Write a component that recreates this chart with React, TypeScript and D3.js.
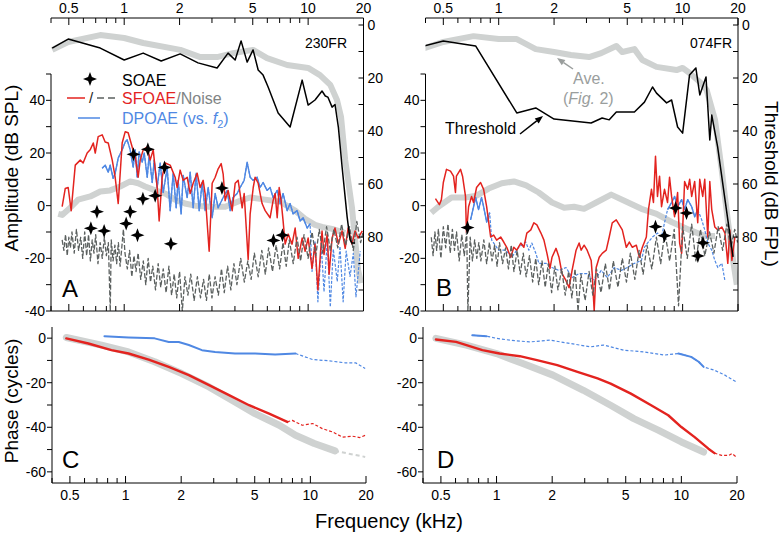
import React from "react";
import * as d3 from "d3";

type P = [number, number];

const FONT = "'Liberation Sans', Arial, Helvetica, sans-serif";
const RED = "#e3231f";
const BLUE = "#4f88e3";
const NOISE = "#5b605f";
const AVE = "#cfd2d1";

// ---------------- axes ----------------
const freqTicks = [0.4, 0.5, 0.6, 0.7, 0.8, 0.9, 1, 2, 3, 4, 5, 6, 7, 8, 9, 10, 20];
const freqLabels = [0.5, 1, 2, 5, 10, 20];
const ampTicks = [-40, -30, -20, -10, 0, 10, 20, 30, 40, 50];
const ampLabels = [-40, -20, 0, 20, 40];
const thrTicks = [0, 10, 20, 30, 40, 50, 60, 70, 80, 90, 100];
const thrLabels = [0, 20, 40, 60, 80];
const phaseTicks = [0, -10, -20, -30, -40, -50, -60];
const phaseLabels = [0, -20, -40, -60];

// ---------------- panel A (230FR) ----------------
const thresholdA: P[] = [[0.406,8.7],[0.496,5.3],[0.741,8.7],[1.0,13.2],[1.268,10.6],[1.589,13.6],[2.015,10.9],[2.52,14.3],[3.2,16.2],[3.67,10.6],[4.01,13.2],[4.32,6.0],[4.66,14.0],[5.02,9.4],[5.35,17],[5.69,18.9],[6.06,23.4],[6.87,33.2],[7.98,38.5],[9.28,20.8],[10,30.2],[10.9,28.3],[11.9,24.9],[12.4,26.8],[12.8,27.2],[13.5,31],[14.0,30],[14.6,38.5],[15.3,53.6],[16.3,72.5],[16.9,81],[17.3,82.3],[18.0,82.3]];
const aveThrA: P[] = [[0.406,9.4],[0.496,6.4],[0.741,3.8],[1.0,4.9],[1.27,6.8],[2.02,9.4],[2.59,12.1],[3.2,12.1],[3.91,10.6],[5.02,9.4],[5.98,12.5],[7.69,15.1],[10,16.2],[11.6,18.9],[13.2,22.6],[14.35,28.3],[15.1,34.7],[15.9,50.9],[17.3,68.7],[18.0,81],[18.7,92.5],[19.4,97.4]];
const aveAmpA: P[] = [[0.438,-3.1],[0.46,-3.5],[0.509,-0.8],[0.562,2.3],[0.654,3.5],[0.741,5.4],[0.839,5.8],[0.951,7.3],[1.078,9.2],[1.191,8.5],[1.3,7.3],[1.474,5.8],[1.67,4.6],[1.89,2.3],[2.14,0.8],[2.43,0],[2.93,-0.4],[3.54,-0.4],[4.27,1.9],[4.84,3.1],[5.83,2.3],[7.05,1.5],[8.5,-1.9],[9.62,-5],[10.9,-7.3],[11.9,-8.1],[13.5,-8.8],[15.9,-10.4]];
const sfoaeA: P[] = [[0.46,-0.4],[0.478,6.5],[0.496,6.9],[0.515,-1.9],[0.542,15.4],[0.577,17.3],[0.598,16.2],[0.629,20],[0.653,21.2],[0.679,23.8],[0.696,20],[0.722,26.2],[0.759,26.9],[0.788,24.2],[0.819,23.8],[0.861,17.3],[0.893,10.8],[0.928,0.8],[0.975,23.8],[1.013,28.1],[1.051,27.7],[1.105,22.3],[1.148,18.5],[1.191,10.8],[1.222,17.3],[1.268,21.2],[1.334,22.3],[1.384,17.3],[1.438,21.2],[1.511,6.9],[1.549,-5.8],[1.609,10.8],[1.67,16.2],[1.778,15.4],[1.892,10.8],[1.941,6.9],[2.015,13.5],[2.093,9.6],[2.2,10.8],[2.284,4.6],[2.371,8.5],[2.492,12.3],[2.588,6.9],[2.687,9.6],[2.754,4.6],[2.897,-17.3],[3.008,8.5],[3.124,10.8],[3.243,14],[3.367,16],[3.452,12],[3.539,1.9],[3.674,5.8],[3.864,-1.9],[4.012,8.5],[4.165,9.6],[4.379,-0.8],[4.49,4.6],[4.72,-20.4],[4.84,-3.1],[5.03,6.9],[5.15,10.8],[5.35,8.5],[5.62,0.8],[5.84,-1.9],[6.21,-4.6],[6.45,1.9],[6.62,4.6],[6.79,-4.6],[6.96,6.9],[7.13,1.9],[7.31,-5.8],[7.5,-14.6],[7.79,-10.8],[8.18,-14.6],[8.5,-8.5],[8.83,-20],[9.28,-12.3],[9.63,-17.3],[10,-12.3],[10.5,-23.8],[10.9,-14.6],[11.3,-32],[11.9,-9.6],[12.2,-18.5],[12.7,-10.8],[13.0,-26],[13.5,-12.3],[14.0,-8.5],[14.6,-14.6],[15.3,-9.6],[15.9,-16.2],[16.5,-8.5],[17.3,-14.6],[18.0,-9.6],[18.7,-12.3],[19.7,-9.6]];
const dpoaeA: P[] = [[0.759,14.2],[0.788,15.4],[0.819,12.7],[0.839,15.4],[0.871,10.4],[0.893,12.3],[0.928,18.1],[0.975,21.2],[1.013,24.2],[1.038,25],[1.078,21.2],[1.119,14.6],[1.148,21.2],[1.177,10.8],[1.206,20.4],[1.253,16.5],[1.285,20],[1.334,10.8],[1.367,19.2],[1.42,8.8],[1.456,17.3],[1.511,6.9],[1.569,16.2],[1.629,5],[1.713,14.2],[1.778,-1.9],[1.846,12.3],[1.917,-0.8],[1.965,9.6],[2.04,-3.1],[2.093,11.5],[2.2,3.1],[2.284,12.7],[2.371,-0.8],[2.462,12.3],[2.557,-1.9],[2.655,8.8],[2.754,-1.9],[2.862,6.9],[3.008,-4.6],[3.124,4.6],[3.243,-0.8],[3.452,3.1],[3.63,5.8],[3.77,-1.9],[3.91,3.1],[4.11,4.6],[4.27,6.9],[4.49,9.6],[4.66,16.5],[4.84,10.8],[5.03,9.6],[5.28,10.8],[5.48,6.9],[5.69,8.8],[5.98,5.8],[6.21,6.9],[6.45,3.1],[6.79,5.8],[7.05,0.8],[7.31,4.6],[7.69,-1.9],[7.98,0.8],[8.28,-3.1],[8.71,-1.9],[9.05,-5.8],[9.39,-4.6],[9.88,-8.5],[10.25,-6.9],[10.5,-25],[10.9,-13.5],[11.3,-36.5],[11.8,-15.4],[12.2,-32.7],[12.7,-13.5],[13.2,-38.5],[13.7,-16.5],[14.4,-28.8],[14.9,-15.4],[15.5,-36.5],[16.1,-17.3],[16.9,-26.9],[17.6,-18.1],[18.2,-34.6],[19.2,-17.3]];
const dpoaeSolidA: P[] = [[0.7, 10.3]];
const noiseA: P[] = [[0.46,-13],[0.47,-17],[0.48,-11],[0.49,-19],[0.5,-12],[0.51,-16],[0.52,-10],[0.535,-18],[0.55,-9],[0.565,-17],[0.58,-12],[0.595,-20],[0.61,-10],[0.625,-19],[0.64,-11],[0.655,-21],[0.67,-13],[0.685,-18],[0.7,-11],[0.72,-22],[0.74,-14],[0.76,-20],[0.78,-12],[0.8,-19],[0.82,-14],[0.84,-40],[0.85,-13],[0.87,-21],[0.89,-15],[0.91,-22],[0.93,-14],[0.95,-23],[0.97,-16],[0.99,-9],[1.01,-18],[1.04,-24],[1.07,-17],[1.1,-27],[1.13,-19],[1.16,-25],[1.19,-18],[1.23,-28],[1.27,-21],[1.31,-30],[1.35,-20],[1.39,-29],[1.43,-23],[1.48,-32],[1.53,-22],[1.58,-31],[1.63,-24],[1.69,-33],[1.75,-23],[1.81,-34],[1.87,-26],[1.93,-35],[2.0,-25],[2.07,-40],[2.14,-27],[2.22,-34],[2.3,-26],[2.4,-36],[2.5,-27],[2.6,-35],[2.7,-28],[2.8,-36],[2.9,-26],[3.0,-35],[3.12,-27],[3.25,-34],[3.38,-24],[3.5,-33],[3.65,-23],[3.8,-32],[3.95,-22],[4.1,-30],[4.3,-20],[4.5,-29],[4.7,-21],[4.9,-28],[5.1,-18],[5.35,-27],[5.6,-17],[5.85,-26],[6.1,-16],[6.4,-25],[6.7,-15],[7.0,-24],[7.3,-14],[7.6,-23],[7.9,-13],[8.3,-22],[8.7,-12],[9.1,-21],[9.5,-11],[10.0,-20],[10.5,-10],[11.0,-19],[11.5,-9],[12.0,-18],[12.6,-8],[13.2,-17],[13.8,-9],[14.5,-16],[15.2,-7],[16.0,-15],[16.8,-8],[17.6,-17],[18.4,-6],[19.3,-14],[19.9,-10]];
const soaeA: P[] = [[0.659,-8.6],[0.711,-2.3],[0.778,-9.6],[1.025,-6.8],[1.078,-2.3],[1.181,-11.2],[1.264,2.6],[1.474,3.8],[1.123,19.5],[1.345,21.4],[1.656,14.5],[1.794,-14.5],[3.4,6.7],[6.48,-13.2],[7.25,-11.2]];

// ---------------- panel B (074FR) ----------------
const thresholdB: P[] = [[0.394,7.9],[0.5,6.0],[0.749,7.9],[1.254,33.2],[1.59,31.3],[2.0,35.5],[3.18,37],[3.65,35.1],[3.99,35.8],[4.36,32.8],[5.47,32.8],[6.2,29.1],[6.86,23.4],[7.21,25.7],[8.18,29.4],[8.71,28.3],[9.39,38.5],[10.0,40.8],[10.9,18.9],[11.8,16.2],[12.4,26.4],[13.4,19.6],[14.05,43.4],[14.4,34],[15.5,46],[17.0,66],[18.8,87.5]];
const aveThrB: P[] = [[0.394,8.7],[0.5,6.4],[0.73,4.2],[1.0,5.3],[1.254,5.3],[1.59,9.1],[2.0,10.2],[2.47,11.3],[3.1,12.1],[3.61,10.6],[4.36,7.9],[4.7,10.2],[5.47,9.1],[6.04,13.2],[7.21,15.8],[9.27,17],[10,16.2],[10.9,18.1],[12.4,21.5],[13.5,24.5],[15.0,35.8],[16.3,54.7],[17.6,73.6],[18.8,88.7],[19.7,98]];
const aveAmpB: P[] = [[0.43,-2.7],[0.47,-0.4],[0.554,3.1],[0.66,3.1],[0.758,3.8],[0.882,6.5],[1.04,8.5],[1.21,9.2],[1.41,7.7],[1.65,5],[1.95,1.2],[2.27,-0.8],[2.57,-0.4],[2.91,-1.2],[3.39,1.2],[4.09,4.2],[4.82,1.9],[5.97,-1.2],[7.21,-3.1],[8.71,-6.2],[10.9,-9.2],[13.2,-11.5],[15.0,-11.5]];
const sfoaeB: P[] = [[0.453,2.7],[0.476,0.4],[0.488,2.3],[0.5,8.8],[0.52,13.8],[0.547,13.1],[0.568,11.2],[0.582,5],[0.589,11.2],[0.62,13.8],[0.636,11.2],[0.66,3.5],[0.668,-10.4],[0.686,-0.4],[0.712,3.5],[0.73,1.2],[0.758,6.9],[0.797,8.8],[0.828,6.2],[0.86,-0.4],[0.904,-11.9],[0.939,-11.2],[0.975,-13.1],[1.025,-11.9],[1.065,-13.8],[1.106,-15.8],[1.163,-19.6],[1.208,-15.8],[1.254,-16.9],[1.319,-14.2],[1.37,-15.8],[1.422,-10.4],[1.495,-9.2],[1.553,-6.5],[1.613,-7.3],[1.697,-10.4],[1.762,-13.1],[1.83,-18.1],[1.9,-23.8],[1.949,-19.6],[2.049,-16.2],[2.128,-19.6],[2.21,-25.8],[2.323,-28.5],[2.413,-31.2],[2.506,-24.6],[2.635,-16.9],[2.737,-14.2],[2.806,-16.9],[2.914,-15],[3.026,-16.9],[3.183,-20.8],[3.223,-25.8],[3.305,-40],[3.389,-23.5],[3.52,-19.6],[3.655,-18.1],[3.843,-16.9],[3.99,-11.9],[4.143,-6.5],[4.356,-5.4],[4.525,-7.3],[4.699,-9.2],[4.94,-15.8],[5.13,-13.8],[5.33,-15.8],[5.6,-15],[5.82,-19.6],[6.04,-15.8],[6.35,-11.9],[6.52,-1.5],[6.77,6.2],[6.94,1.2],[7.12,18.8],[7.3,3.5],[7.49,11.2],[7.68,-0.4],[7.97,6.2],[8.28,1.2],[8.49,10.8],[8.71,3.5],[9.04,-4.2],[9.39,5],[9.63,-14.2],[9.88,-18.1],[10.25,9.2],[10.65,6.2],[10.92,10],[11.2,3.5],[11.63,9.2],[12.08,-6.5],[12.39,10],[12.86,3.5],[13.19,10],[13.7,-11.9],[14.05,9.2],[14.4,-1.5],[14.96,-8.1],[15.54,-9.2],[16.34,-8.1],[16.98,-10.4],[17.6,-21.9],[18.06,-9.2],[18.53,-20.8],[19.24,-11.9]];
const dpoaeB: P[] = [[0.703,-5.4],[0.73,-0.4],[0.749,3.1],[0.777,-1.5],[0.807,3.1],[0.828,-0.4],[0.86,-6.2],[0.893,-2.7],[0.916,-13.1],[1.0,-16.9],[1.092,-16.9],[1.178,-19.6],[1.286,-15.8],[1.404,-13.8],[1.459,-16.9],[1.514,-14.2],[1.592,-18.1],[1.654,-21.9],[1.806,-21.9],[1.949,-23.5],[2.128,-24.6],[2.323,-23.5],[2.506,-27.3],[2.737,-25.8],[3.026,-25.8],[3.305,-28.5],[3.61,-24.6],[3.89,-27.3],[4.25,-23.5],[4.64,-24.6],[5.0,-23.5],[5.47,-21.9],[5.97,-20.8],[6.2,-15.8],[6.44,-14.2],[6.86,-11.9],[7.3,-10.4],[7.68,-11.9],[7.97,-6.5],[8.28,-1.5],[8.71,1.2],[9.04,3.5],[9.39,-0.4],[9.88,2.3],[10.25,-1.5],[10.65,2.3],[11.2,-0.4],[11.63,-4.2],[12.08,-1.5],[12.7,-5.4],[13.19,-9.2],[13.7,-14.2],[14.4,-16.9],[14.96,-20.8],[15.54,-23.5],[16.34,-21.9],[16.98,-28.5]];
const dpoaeSolidB: P[] = [[0.7, 0.9], [8.2, 12.5]];
const noiseB: P[] = [[0.43,-12],[0.44,-19],[0.45,-10],[0.46,-17],[0.47,-9],[0.485,-20],[0.5,-8],[0.515,-16],[0.53,-7],[0.545,-18],[0.56,-9],[0.575,-17],[0.59,-10],[0.61,-21],[0.63,-11],[0.65,-19],[0.67,-10],[0.68,-40],[0.7,-12],[0.72,-21],[0.74,-13],[0.76,-20],[0.78,-14],[0.8,-21],[0.83,-13],[0.86,-22],[0.89,-14],[0.92,-21],[0.95,-15],[0.98,-23],[1.01,-14],[1.05,-22],[1.09,-16],[1.13,-24],[1.17,-15],[1.21,-25],[1.26,-17],[1.31,-26],[1.36,-18],[1.41,-27],[1.47,-19],[1.53,-29],[1.59,-20],[1.65,-30],[1.72,-21],[1.79,-31],[1.86,-22],[1.94,-33],[2.02,-23],[2.1,-32],[2.2,-24],[2.3,-34],[2.4,-25],[2.5,-35],[2.6,-24],[2.7,-40],[2.8,-26],[2.95,-36],[3.1,-25],[3.25,-34],[3.4,-24],[3.6,-33],[3.8,-22],[4.0,-32],[4.2,-21],[4.45,-31],[4.7,-20],[4.95,-29],[5.2,-18],[5.5,-28],[5.8,-17],[6.1,-26],[6.4,-15],[6.8,-24],[7.2,-12],[7.6,-22],[8.0,-10],[8.5,-21],[9.0,-9],[9.5,-38],[10.0,-8],[10.6,-20],[11.2,-7],[11.8,-21],[12.5,-9],[13.2,-19],[14.0,-10],[14.8,-18],[15.6,-8],[16.5,-17],[17.4,-7],[18.3,-16],[19.2,-9],[19.9,-14]];
const soaeB: P[] = [[0.677,-8.3],[7.12,-8.0],[7.97,-11.4],[9.16,-0.9],[10.5,-2.8],[12.9,-14.1],[12.1,-19.1]];

// ---------------- phase panels ----------------
const phaseAveC: P[] = [[0.478,0.3],[0.741,-3.1],[1.038,-6.2],[1.437,-10.6],[2.015,-15.9],[2.83,-21.9],[3.91,-28.6],[5.02,-33.9],[6.79,-39.1],[8.31,-43.6],[10.5,-47.3],[13.6,-50.6]];
const phaseAveCDash: P[] = [[13.6,-50.6],[19.8,-53.3]];
const phaseSfC: P[] = [[0.478,-0.1],[0.629,-2.4],[0.839,-5.4],[1.038,-6.9],[1.334,-9.6],[1.713,-12.9],[2.2,-16.6],[2.83,-21.1],[3.63,-25.6],[4.66,-30.1],[5.98,-33.9],[7.5,-37.6]];
const phaseSfCDash: P[] = [[7.5,-37.6],[7.98,-36.9],[9.05,-39.1],[10.3,-38.3],[11.6,-40.6],[13.2,-42.1],[14.9,-44.4],[16.9,-44],[18.5,-44.6],[19.8,-43.6]];
const phaseDpC: P[] = [[0.769,0.9],[1.038,0.3],[1.437,-0.1],[1.713,-1.7],[1.94,-1.7],[2.2,-3.1],[2.59,-5.4],[3.05,-6.2],[3.91,-6.9],[5.02,-6.9],[6.45,-7.3],[8.31,-6.9]];
const phaseDpCDash: P[] = [[8.31,-6.9],[10.3,-9.6],[12.7,-10.2],[15.5,-11.1],[17.6,-11.1],[19.8,-13.6]];

const phaseAveD: P[] = [[0.47,-0.1],[0.686,-3.1],[1,-6.9],[1.387,-11.4],[2.02,-16.6],[2.95,-23.4],[4.14,-30.1],[5.53,-36.1],[7.49,-41.3],[10,-46.6],[13.2,-51.1]];
const phaseSfD: P[] = [[0.47,-0.6],[0.604,-1.7],[0.838,-5.4],[1.038,-6.9],[1.336,-8.1],[1.654,-9.9],[2.13,-12.1],[2.74,-15.1],[3.52,-18.1],[4.14,-20.4],[5.33,-24.9],[6.86,-30.1],[8.49,-34.6],[10,-39.9],[11.8,-44.4],[14.0,-49.6],[15.1,-51.6]];
const phaseSfDDash: P[] = [[15.1,-51.6],[16.5,-52.6],[18.1,-52.6],[18.8,-51.8],[19.8,-53.3]];
const phaseDpD: P[] = [[0.739,1.3],[0.882,0.9],[1,-0.1],[1.18,-0.9],[1.51,-1.7],[1.95,-0.9],[2.5,-2.4],[3.22,-3.9],[3.79,-3.1],[4.88,-5.4],[6.28,-6.2],[8.07,-7.6],[9.63,-6.9],[11.3,-8.4],[12.4,-10.6],[13.2,-12.9],[15.1,-14.4],[17.2,-16.6],[19.8,-19.6]];
const phaseDpSolidD: P[] = [[0.73, 0.9], [9.6, 13.3]];

// ---------------- helpers ----------------
function starPath(cx: number, cy: number, r: number) {
  const ri = r * 0.38;
  const pts: string[] = [];
  for (let i = 0; i < 8; i++) {
    const a = -Math.PI / 2 + (i * Math.PI) / 4;
    const rr = i % 2 === 0 ? r : ri;
    pts.push(`${(cx + rr * Math.cos(a)).toFixed(2)},${(cy + rr * Math.sin(a)).toFixed(2)}`);
  }
  return "M" + pts.join("L") + "Z";
}

function Arrow({ x1, y1, x2, y2, color }: { x1: number; y1: number; x2: number; y2: number; color: string }) {
  const ang = Math.atan2(y2 - y1, x2 - x1);
  const L = 8, w = 3.2;
  const bx = x2 - L * Math.cos(ang), by = y2 - L * Math.sin(ang);
  const px = -Math.sin(ang) * w, py = Math.cos(ang) * w;
  return (
    <g>
      <line x1={x1} y1={y1} x2={bx} y2={by} stroke={color} strokeWidth={1.5} />
      <path d={`M${x2},${y2}L${bx + px},${by + py}L${bx - px},${by - py}Z`} fill={color} />
    </g>
  );
}

function segmentsIn(data: P[], ranges: P[]): P[][] {
  return ranges.map(([a, b]) => data.filter((d) => d[0] >= a && d[0] <= b)).filter((s) => s.length > 1);
}

const Y_TOP = 18, Y_AMP_TOP = 74, Y_AMP_BOT = 311;

function AmpPanel(props: {
  id: string; left: number; right: number;
  red: P[]; blue: P[]; blueSolid: P[]; noise: P[]; ave: P[]; thr: P[]; thrAve: P[]; soae: P[];
  title: string; titleX: number; letter: string; letterX: number; letterY: number;
}) {
  const { id, left, right } = props;
  const x = d3.scaleLog().domain([0.4, 20]).range([left, right]);
  const yA = d3.scaleLinear().domain([-40, 50]).range([Y_AMP_BOT, Y_AMP_TOP]);
  const yT = d3.scaleLinear().domain([0, 100]).range([25, 290]);
  const la = d3.line<P>().x((d) => x(d[0])).y((d) => yA(d[1]));
  const lt = d3.line<P>().x((d) => x(d[0])).y((d) => yT(d[1]));
  return (
    <g>
      <defs>
        <clipPath id={`clip-${id}`}>
          <rect x={left} y={Y_TOP} width={right - left} height={Y_AMP_BOT - Y_TOP} />
        </clipPath>
      </defs>
      <g clipPath={`url(#clip-${id})`} fill="none" strokeLinejoin="round">
        <path d={lt(props.thrAve) || ""} stroke={AVE} strokeWidth={6} />
        <path d={la(props.ave) || ""} stroke={AVE} strokeWidth={6} />
        <path d={la(props.blue) || ""} stroke={BLUE} strokeWidth={1.2} strokeDasharray="3,1.5" />
        {segmentsIn(props.blue, props.blueSolid).map((s, i) => (
          <path key={i} d={la(s) || ""} stroke={BLUE} strokeWidth={1.4} />
        ))}
        <path d={la(props.red) || ""} stroke={RED} strokeWidth={1.5} />
        <path d={la(props.noise) || ""} stroke={NOISE} strokeWidth={1.3} strokeDasharray="5,2" />
        <path d={lt(props.thr) || ""} stroke="#000" strokeWidth={1.5} />
      </g>
      {props.soae.map((d, i) => (
        <path key={i} d={starPath(x(d[0]), yA(d[1]), 7)} fill="#000" />
      ))}
      {/* top axis */}
      <line x1={left} x2={right} y1={Y_TOP} y2={Y_TOP} stroke="#000" strokeWidth={1} />
      {freqTicks.map((t) => (
        <line key={"tt" + t} x1={x(t)} x2={x(t)} y1={Y_TOP} y2={Y_TOP + (freqLabels.includes(t) ? 7 : 5)} stroke="#000" />
      ))}
      {freqLabels.map((t) => (
        <text key={"tl" + t} x={x(t)} y={13} textAnchor="middle" fontSize={14}>{t}</text>
      ))}
      {/* bottom axis */}
      <line x1={left} x2={right} y1={Y_AMP_BOT} y2={Y_AMP_BOT} stroke="#000" />
      {freqTicks.map((t) => (
        <line key={"bt" + t} x1={x(t)} x2={x(t)} y1={Y_AMP_BOT} y2={Y_AMP_BOT - (freqLabels.includes(t) ? 7 : 5)} stroke="#000" />
      ))}
      {/* left axis */}
      <line x1={left} x2={left} y1={Y_AMP_TOP} y2={Y_AMP_BOT} stroke="#000" />
      {ampTicks.map((t) => (
        <line key={"la" + t} x1={left - 5} x2={left} y1={yA(t)} y2={yA(t)} stroke="#000" />
      ))}
      {ampLabels.map((t) => (
        <text key={"ll" + t} x={left - 6} y={yA(t)} dy="0.36em" textAnchor="end" fontSize={14}>{t}</text>
      ))}
      {/* right axis */}
      <line x1={right} x2={right} y1={Y_TOP} y2={Y_AMP_BOT} stroke="#000" />
      {thrTicks.map((t) => (
        <line key={"ra" + t} x1={right - 5} x2={right} y1={yT(t)} y2={yT(t)} stroke="#000" />
      ))}
      {thrLabels.map((t) => (
        <text key={"rl" + t} x={right + 4} y={yT(t)} dy="0.36em" textAnchor="start" fontSize={14}>{t}</text>
      ))}
      <text x={props.titleX} y={48} textAnchor="end" fontSize={14}>{props.title}</text>
      <text x={props.letterX} y={props.letterY} fontSize={24}>{props.letter}</text>
    </g>
  );
}

const Y_PH_TOP = 327, Y_PH_BOT = 483;

function PhasePanel(props: {
  id: string; left: number; right: number;
  ave: P[]; aveDash: P[]; red: P[]; redDash: P[]; blue: P[]; blueDash: P[]; blueSolid: P[];
  letter: string; letterX: number;
}) {
  const { id, left, right } = props;
  const x = d3.scaleLog().domain([0.4, 20]).range([left, right]);
  const y = d3.scaleLinear().domain([-65, 5]).range([Y_PH_BOT, Y_PH_TOP]);
  const l = d3.line<P>().x((d) => x(d[0])).y((d) => y(d[1]));
  return (
    <g>
      <defs>
        <clipPath id={`clip-${id}`}>
          <rect x={left} y={Y_PH_TOP} width={right - left + 2} height={Y_PH_BOT - Y_PH_TOP} />
        </clipPath>
      </defs>
      <g clipPath={`url(#clip-${id})`} fill="none" strokeLinecap="round" strokeLinejoin="round">
        <path d={l(props.ave) || ""} stroke={AVE} strokeWidth={7} />
        {props.aveDash.length > 1 && <path d={l(props.aveDash) || ""} stroke={AVE} strokeWidth={2} strokeDasharray="4,3" strokeLinecap="butt" />}
        <path d={l(props.red) || ""} stroke={RED} strokeWidth={2.4} />
        {props.redDash.length > 1 && <path d={l(props.redDash) || ""} stroke={RED} strokeWidth={1.2} strokeDasharray="3,2" strokeLinecap="butt" />}
        {props.blue.length > 1 && <path d={l(props.blue) || ""} stroke={BLUE} strokeWidth={2} />}
        {props.blueDash.length > 1 && <path d={l(props.blueDash) || ""} stroke={BLUE} strokeWidth={1.2} strokeDasharray="3,2" strokeLinecap="butt" />}
        {segmentsIn(props.blueDash, props.blueSolid).map((s, i) => (
          <path key={i} d={l(s) || ""} stroke={BLUE} strokeWidth={2} />
        ))}
      </g>
      <line x1={left} x2={left} y1={Y_PH_TOP} y2={Y_PH_BOT} stroke="#000" />
      {phaseTicks.map((t) => (
        <line key={"pt" + t} x1={left - 5} x2={left} y1={y(t)} y2={y(t)} stroke="#000" />
      ))}
      {phaseLabels.map((t) => (
        <text key={"pl" + t} x={left - 6} y={y(t)} dy="0.36em" textAnchor="end" fontSize={14}>{t}</text>
      ))}
      <line x1={left} x2={right} y1={Y_PH_BOT} y2={Y_PH_BOT} stroke="#000" />
      {freqTicks.map((t) => (
        <line key={"pb" + t} x1={x(t)} x2={x(t)} y1={Y_PH_BOT} y2={Y_PH_BOT - (freqLabels.includes(t) ? 7 : 5)} stroke="#000" />
      ))}
      {freqLabels.map((t) => (
        <text key={"pbl" + t} x={x(t)} y={495} dy="0.36em" textAnchor="middle" fontSize={14}>{t}</text>
      ))}
      <text x={props.letterX} y={468} fontSize={24}>{props.letter}</text>
    </g>
  );
}

export default function App() {
  return (
    <svg
      width={784}
      height={533}
      viewBox="0 0 784 533"
      style={{ position: "absolute", left: 0, top: 0, background: "#fff" }}
      fontFamily={FONT}
    >
      <rect x={0} y={0} width={784} height={533} fill="#fff" />
      <AmpPanel id="A" left={51} right={363.5} red={sfoaeA} blue={dpoaeA} blueSolid={dpoaeSolidA} noise={noiseA}
        ave={aveAmpA} thr={thresholdA} thrAve={aveThrA} soae={soaeA} title="230FR" titleX={347} letter="A" letterX={62} letterY={297} />
      <AmpPanel id="B" left={425.5} right={738} red={sfoaeB} blue={dpoaeB} blueSolid={dpoaeSolidB} noise={noiseB}
        ave={aveAmpB} thr={thresholdB} thrAve={aveThrB} soae={soaeB} title="074FR" titleX={732} letter="B" letterX={436} letterY={296} />
      <PhasePanel id="C" left={52} right={366} ave={phaseAveC} aveDash={phaseAveCDash} red={phaseSfC} redDash={phaseSfCDash}
        blue={phaseDpC} blueDash={phaseDpCDash} blueSolid={[]} letter="C" letterX={62} />
      <PhasePanel id="D" left={423} right={737} ave={phaseAveD} aveDash={[]} red={phaseSfD} redDash={phaseSfDDash}
        blue={[]} blueDash={phaseDpD} blueSolid={phaseDpSolidD} letter="D" letterX={437} />

      {/* legend panel A */}
      <path d={starPath(90, 79, 7)} fill="#000" />
      <text x={122} y={80} dy="0.36em" fontSize={16}>SOAE</text>
      <line x1={67} x2={85} y1={98} y2={98} stroke={RED} strokeWidth={1.5} />
      <text x={91} y={98} dy="0.36em" textAnchor="middle" fontSize={15} fill="#222">/</text>
      <line x1={97} x2={118} y1={98} y2={98} stroke={NOISE} strokeWidth={1.5} strokeDasharray="7,4" />
      <text x={122} y={98} dy="0.36em" fontSize={16}>
        <tspan fill={RED}>SFOAE</tspan><tspan fill="#808484">/Noise</tspan>
      </text>
      <line x1={78} x2={100} y1={118} y2={118} stroke={BLUE} strokeWidth={1.5} />
      <text x={122} y={118} dy="0.36em" fontSize={16} fill={BLUE}>
        DPOAE (vs. <tspan fontStyle="italic">f</tspan><tspan fontSize={11} dy="4">2</tspan><tspan dy="-4">)</tspan>
      </text>

      {/* annotations panel B */}
      <text x={573} y={78} dy="0.36em" fontSize={16} fill="#9a9e9d">Ave.</text>
      <text x={563} y={98} dy="0.36em" fontSize={16} fill="#9a9e9d">(<tspan fontStyle="italic">Fig.</tspan> 2)</text>
      <Arrow x1={573} y1={69} x2={557} y2={58} color="#9a9e9d" />
      <text x={445} y={128} dy="0.36em" fontSize={16}>Threshold</text>
      <Arrow x1={520} y1={134} x2={543} y2={116} color="#000" />

      {/* axis titles */}
      <text transform="translate(18,168) rotate(-90)" textAnchor="middle" fontSize={19}>Amplitude (dB SPL)</text>
      <text transform="translate(18,401) rotate(-90)" textAnchor="middle" fontSize={19}>Phase (cycles)</text>
      <text transform="translate(765,184) rotate(90)" textAnchor="middle" fontSize={19}>Threshold (dB FPL)</text>
      <text x={389} y={528} textAnchor="middle" fontSize={20}>Frequency (kHz)</text>
    </svg>
  );
}
